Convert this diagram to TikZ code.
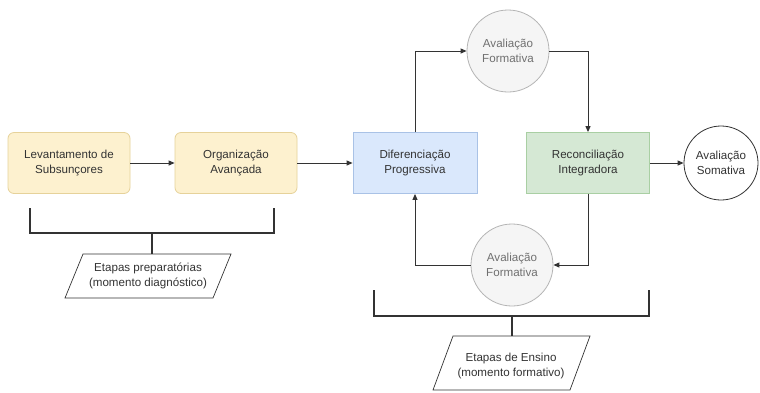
\documentclass[tikz,border=0pt]{standalone}
\usepackage{fontspec}
\setmainfont{Liberation Sans}
\usetikzlibrary{arrows.meta}
\definecolor{ylwfill}{HTML}{FDF1CF}
\definecolor{ylwline}{HTML}{E6D29A}
\definecolor{bluefill}{HTML}{DAE8FC}
\definecolor{blueline}{HTML}{A9C2E6}
\definecolor{grnfill}{HTML}{D5E8D4}
\definecolor{grnline}{HTML}{A9CFA3}
\definecolor{gryfill}{HTML}{F5F5F5}
\definecolor{gryline}{HTML}{B5B5B5}
\definecolor{txt}{HTML}{333333}
\definecolor{ln}{HTML}{333333}
\tikzset{
  every node/.style={font=\fontsize{11.6}{15}\selectfont, text=txt, align=center},
  boxy/.style={draw=ylwline, fill=ylwfill, rounded corners=6pt, minimum width=122pt, minimum height=61pt, line width=0.8pt},
  boxb/.style={draw=blueline, fill=bluefill, minimum width=124pt, minimum height=61pt, line width=0.8pt},
  boxg/.style={draw=grnline, fill=grnfill, minimum width=123pt, minimum height=61pt, line width=0.8pt},
  evalf/.style={circle, draw=gryline, fill=gryfill, minimum size=82pt, inner sep=0pt, text=txt!70, line width=0.8pt},
  evals/.style={circle, draw=ln, fill=white, minimum size=74pt, inner sep=0pt, line width=0.8pt},
  conn/.style={draw=ln, line width=1pt, -{Triangle[length=6pt,width=5pt]}},
  brace/.style={draw=ln, line width=2.2pt},
  para/.style={draw=ln, line width=0.7pt, fill=white}
}
\begin{document}
\begin{tikzpicture}[x=1pt,y=-1pt]
\useasboundingbox (0,0) rectangle (760,392);
\fill[white] (0,0) rectangle (760,392);

\node[boxy] (lev) at (69,163) {Levantamento de\\Subsunçores};
\node[boxy] (org) at (236,163) {Organização\\Avançada};
\node[boxb] (dif) at (415,163) {Diferenciação\\Progressiva};
\node[boxg] (rec) at (588,163) {Reconciliação\\Integradora};
\node[evals] (som) at (721,163) {Avaliação\\Somativa};
\node[evalf] (aft) at (508,51) {Avaliação\\Formativa};
\node[evalf] (afb) at (512,265) {Avaliação\\Formativa};

\draw[conn] (lev) -- (org);
\draw[conn] (org) -- (dif);
\draw[conn] (rec) -- (som);
\draw[conn] (dif.north) |- (aft.west);
\draw[conn] (aft.east) -| (rec.north);
\draw[conn] (rec.south) |- (afb.east);
\draw[conn] (afb.west) -| (dif.south);

% left bracket
\coordinate (b1l) at (30,208);
\coordinate (b1r) at (274,208);
\coordinate (b1m) at (152,233);
\coordinate (p1top) at (152,254);
\draw[brace] (b1l) |- (b1r |- b1m) -- (b1r);
\draw[brace] (b1m) -- (p1top);
\draw[para] (83,254) -- (231,254) -- (213,298) -- (65,298) -- cycle;
\node (p1) at (148,276) {Etapas preparatórias\\(momento diagnóstico)};

% right bracket
\coordinate (b2l) at (374,290);
\coordinate (b2r) at (649,290);
\coordinate (b2m) at (512,316);
\coordinate (p2top) at (512,336);
\draw[brace] (b2l) |- (b2r |- b2m) -- (b2r);
\draw[brace] (b2m) -- (p2top);
\draw[para] (453,336) -- (590,336) -- (570,390) -- (433,390) -- cycle;
\node (p2) at (511,366) {Etapas de Ensino\\(momento formativo)};
\end{tikzpicture}
\end{document}
